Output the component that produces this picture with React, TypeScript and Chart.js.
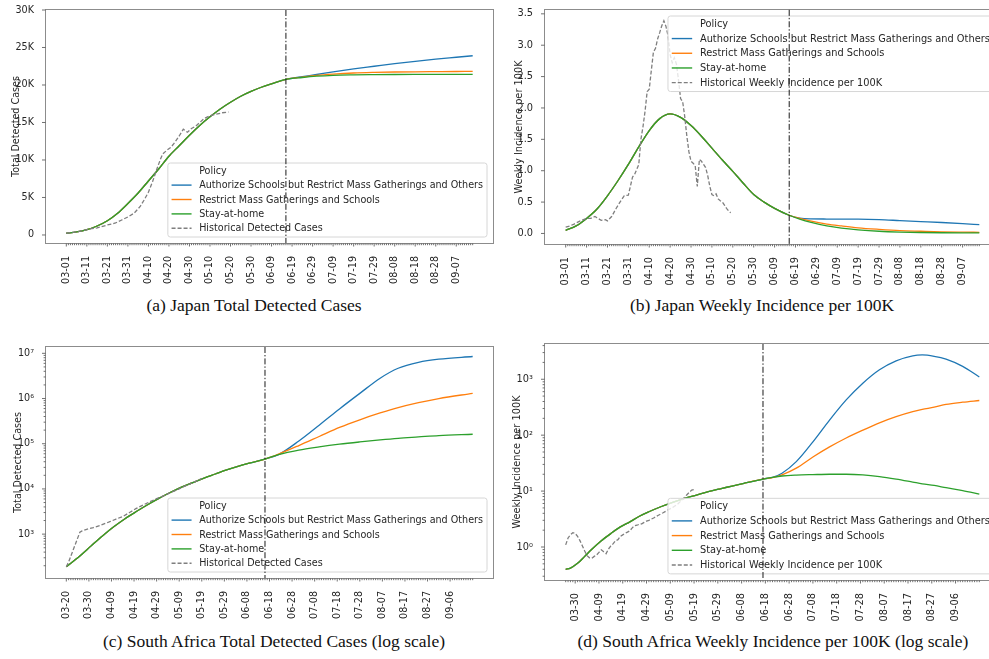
import React, { useEffect, useRef } from 'react';
import { Chart, registerables } from 'chart.js';

Chart.register(...registerables);

// ---------------- shared names ----------------
const POLICIES = [
  'Authorize Schools but Restrict Mass Gatherings and Others',
  'Restrict Mass Gatherings and Schools',
  'Stay-at-home',
];
const POLICY_COLORS = ['#1f77b4', '#ff7f0e', '#2ca02c'];
const HIST_COLOR = '#7f7f7f';
const LEGEND_TITLE = 'Policy';
const MONTH_DAYS = [31, 30, 31, 30, 31, 31, 30]; // March .. September, day 0 = 03-01
const Y_TITLE_TOTAL = 'Total Detected Cases';
const Y_TITLE_WEEKLY = 'Weekly Incidence per 100K';
const HIST_TOTAL = 'Historical Detected Cases';
const HIST_WEEKLY = 'Historical Weekly Incidence per 100K';
const CAPTIONS = [
  '(a) Japan Total Detected Cases',
  '(b) Japan Weekly Incidence per 100K',
  '(c) South Africa Total Detected Cases (log scale)',
  '(d) South Africa Weekly Incidence per 100K (log scale)',
];

// ---------------- (a) Japan total detected cases ----------------
const A_PRE_DAYS = [0, 5, 10, 15, 20, 25, 30, 35, 40, 45, 50, 55, 60, 65, 70, 75, 80, 85, 90, 95, 100, 107];
const A_PRE = [230, 400, 700, 1200, 1900, 2900, 4200, 5600, 7200, 8800, 10500, 11900, 13300, 14600, 15750, 16800, 17700, 18500, 19150, 19700, 20150, 20750];
const A_POST_DAYS = [107, 115, 122, 130, 140, 150, 160, 170, 180, 190, 198];
const A_AUTH = [20750, 21100, 21400, 21750, 22150, 22500, 22850, 23150, 23450, 23700, 23900];
const A_RESTRICT = [20750, 21050, 21280, 21450, 21600, 21680, 21730, 21760, 21780, 21800, 21810];
const A_STAY = [20750, 21000, 21170, 21290, 21350, 21380, 21400, 21405, 21410, 21410, 21410];
const A_HIST_DAYS = [0, 4, 8, 11, 15, 20, 24, 27, 30, 33, 36, 38, 40, 42, 44, 46, 47, 49, 51, 53, 55, 57, 59, 61, 63, 65, 67, 70, 73, 76, 79];
const A_HIST = [230, 380, 560, 780, 950, 1330, 1600, 2000, 2400, 2900, 3800, 4700, 5700, 7100, 8700, 10200, 10800, 11300, 11700, 12400, 13200, 14100, 13700, 14200, 14500, 15000, 15500, 15900, 16100, 16300, 16400];
const A_Y_TICKS = [0, 5000, 10000, 15000, 20000, 25000, 30000];

// ---------------- (b) Japan weekly incidence ----------------
const B_PRE_DAYS = [0, 5, 10, 15, 20, 25, 30, 35, 40, 45, 50, 55, 60, 65, 70, 75, 80, 85, 90, 95, 100, 107];
const B_PRE = [0.05, 0.12, 0.24, 0.39, 0.6, 0.84, 1.1, 1.38, 1.64, 1.83, 1.905, 1.85, 1.72, 1.55, 1.36, 1.17, 0.99, 0.8, 0.62, 0.5, 0.4, 0.29];
const B_POST_DAYS = [107, 112, 117, 125, 132, 140, 150, 160, 170, 180, 190, 198];
const B_AUTH = [0.29, 0.245, 0.232, 0.23, 0.229, 0.228, 0.22, 0.205, 0.19, 0.175, 0.157, 0.14];
const B_RESTRICT = [0.29, 0.24, 0.2, 0.15, 0.12, 0.09, 0.065, 0.045, 0.035, 0.026, 0.021, 0.018];
const B_STAY = [0.29, 0.23, 0.18, 0.12, 0.085, 0.058, 0.035, 0.022, 0.015, 0.011, 0.009, 0.008];
const B_HIST_DAYS = [0, 2, 4, 7, 10, 12, 14, 15, 17, 19, 20, 22, 24, 26, 28, 30, 32, 33, 35, 36, 37, 38, 39, 40, 41, 42, 43, 44, 45, 46, 47, 48, 49, 50, 51, 52, 53, 54, 55, 56, 57, 58, 59, 60, 61, 62, 63, 64, 65, 66, 67, 68, 69, 70, 71, 72, 73, 74, 75, 76, 77, 78, 79];
const B_HIST = [0.1, 0.12, 0.15, 0.2, 0.24, 0.24, 0.27, 0.25, 0.21, 0.22, 0.2, 0.27, 0.39, 0.5, 0.6, 0.61, 0.9, 0.94, 1.1, 1.5, 1.7, 1.95, 2.26, 2.3, 2.6, 2.89, 2.95, 3.1, 3.2, 3.31, 3.39, 3.3, 3.15, 2.85, 2.72, 2.8, 2.7, 2.45, 2.15, 2.1, 1.86, 1.55, 1.3, 1.15, 1.12, 1.08, 0.75, 1.18, 1.15, 1.1, 1.05, 0.92, 0.75, 0.62, 0.6, 0.63, 0.55, 0.52, 0.5, 0.45, 0.4, 0.36, 0.33];
const B_Y_TICKS = [0, 0.5, 1, 1.5, 2, 2.5, 3, 3.5];

// ---------------- (c) South Africa total detected cases (log) ----------------
const C_PRE_DAYS = [19, 25, 30, 35, 40, 45, 50, 55, 60, 65, 70, 75, 80, 85, 90, 95, 100, 107];
const C_PRE = [190, 330, 550, 910, 1450, 2190, 3160, 4470, 6170, 8320, 10960, 13800, 17380, 21380, 26300, 31620, 37150, 45700];
const C_POST_DAYS = [107, 113, 122, 131, 140, 149, 158, 166, 175, 184, 199];
const C_AUTH = [45700, 57500, 115000, 257000, 589000, 1300000, 2820000, 4680000, 6310000, 7410000, 8510000];
const C_RESTRICT = [45700, 58900, 91200, 144500, 229100, 338800, 478600, 631000, 812800, 1000000, 1303000];
const C_STAY = [45700, 57500, 72400, 85100, 97700, 109600, 121600, 131800, 141300, 151400, 162200];
const C_HIST_DAYS = [19, 20, 25, 26, 28, 31, 34, 38, 41, 44, 47, 50, 53, 56, 59, 62, 65, 68, 71, 74, 77, 79];
const C_HIST = [190, 240, 1100, 1180, 1280, 1400, 1560, 1860, 2150, 2450, 3000, 3700, 4400, 5200, 6100, 7000, 8200, 9500, 11200, 13000, 15200, 17000];
const C_Y_TICKS = [1e3, 1e4, 1e5, 1e6, 1e7];

// ---------------- (d) South Africa weekly incidence (log) ----------------
const D_PRE_DAYS = [25, 27, 30, 33, 36, 40, 44, 48, 52, 56, 60, 65, 70, 75, 80, 85, 90, 95, 100, 108];
const D_PRE = [0.4, 0.42, 0.51, 0.68, 0.91, 1.29, 1.74, 2.29, 2.82, 3.55, 4.27, 5.25, 6.31, 7.41, 8.51, 9.77, 11.0, 12.3, 13.8, 16.4];
const D_POST_DAYS = [108, 112, 116, 122, 129, 136, 143, 150, 157, 164, 171, 175, 180, 185, 192, 199];
const D_AUTH = [16.4, 17.6, 20.9, 33.6, 75.9, 186, 427, 851, 1480, 2140, 2630, 2720, 2570, 2290, 1700, 1100];
const D_RESTRICT = [16.4, 17.4, 19.5, 25.7, 40.7, 61.7, 89.1, 123, 166, 214, 263, 288, 316, 355, 389, 417];
const D_STAY = [16.4, 17.6, 18.6, 19.3, 19.7, 20.0, 20.0, 19.5, 18.2, 16.4, 14.5, 13.5, 12.6, 11.5, 10.2, 8.8];
const D_HIST_DAYS = [25, 26, 27, 28, 29, 30, 31, 32, 33, 34, 35, 36, 37, 38, 39, 40, 41, 42, 43, 44, 45, 46, 47, 48, 49, 50, 51, 52, 53, 54, 55, 56, 57, 58, 59, 60, 62, 64, 66, 68, 70, 72, 74, 76, 77, 78, 79];
const D_HIST = [1.09, 1.45, 1.65, 1.8, 1.75, 1.55, 1.3, 1.05, 0.85, 0.7, 0.64, 0.63, 0.68, 0.72, 0.8, 0.89, 0.82, 0.76, 0.92, 1.05, 1.15, 1.3, 1.35, 1.55, 1.65, 1.75, 1.85, 1.95, 2.2, 2.4, 2.45, 2.55, 2.6, 2.75, 2.9, 3.0, 3.3, 3.7, 4.1, 4.6, 5.1, 5.8, 7.0, 8.6, 9.5, 10.4, 10.7];
const D_Y_TICKS = [1, 10, 100, 1000];

// ---------------- helpers ----------------
function dayLabel(d: number): string {
  let rest = Math.round(d);
  let m = 0;
  while (m < MONTH_DAYS.length - 1 && rest >= MONTH_DAYS[m]) {
    rest -= MONTH_DAYS[m];
    m++;
  }
  return String(m + 3).padStart(2, '0') + '-' + String(rest + 1).padStart(2, '0');
}
const SUP: Record<string, string> = { '-': '\u207B', '0': '\u2070', '1': '\u00B9', '2': '\u00B2', '3': '\u00B3', '4': '\u2074', '5': '\u2075', '6': '\u2076', '7': '\u2077', '8': '\u2078', '9': '\u2079' };
const fmtK = (v: number) => (v === 0 ? '0' : v / 1000 + 'K');
const fmtDec = (v: number) => v.toFixed(1);
const fmtPow = (v: number) => '10' + String(Math.round(Math.log10(v))).split('').map((c) => SUP[c]).join('');
const pts = (days: number[], vals: number[]) => days.map((d, i) => ({ x: d, y: vals[i] }));

type Spec = {
  key: string;
  preDays: number[]; pre: number[];
  postDays: number[]; post: number[][];
  histDays: number[]; hist: number[];
  histLabel: string; yTitle: string; caption: string;
  log: boolean; yTicks: number[]; yFmt: (v: number) => string;
  xMin: number; xMax: number; yMin: number; yMax: number;
  span: [number, number]; firstLabel: number; lastLabel: number; split: number; corner: 'lower' | 'upper';
  left: number; top: number; width: number; height: number;
  padTop: number; padRight: number; yW: number; xH: number; titlePad: number; fs: number;
  capX: number; capY: number;
};

const SPECS: Spec[] = [
  {
    key: 'a', preDays: A_PRE_DAYS, pre: A_PRE, postDays: A_POST_DAYS, post: [A_AUTH, A_RESTRICT, A_STAY],
    histDays: A_HIST_DAYS, hist: A_HIST, histLabel: HIST_TOTAL, yTitle: Y_TITLE_TOTAL, caption: CAPTIONS[0],
    log: false, yTicks: A_Y_TICKS, yFmt: fmtK, xMin: -9.9, xMax: 207.9, yMin: -1070, yMax: 30000,
    span: [0, 198], firstLabel: 0, lastLabel: 190, split: 107, corner: 'lower',
    left: 0, top: 0, width: 495, height: 292, padTop: 10, padRight: 2, yW: 46, xH: 49, titlePad: 11, fs: 9.6,
    capX: 254, capY: 305,
  },
  {
    key: 'b', preDays: B_PRE_DAYS, pre: B_PRE, postDays: B_POST_DAYS, post: [B_AUTH, B_RESTRICT, B_STAY],
    histDays: B_HIST_DAYS, hist: B_HIST, histLabel: HIST_WEEKLY, yTitle: Y_TITLE_WEEKLY, caption: CAPTIONS[1],
    log: false, yTicks: B_Y_TICKS, yFmt: fmtDec, xMin: -9.9, xMax: 207.9, yMin: -0.168, yMax: 3.563,
    span: [0, 198], firstLabel: 0, lastLabel: 190, split: 107, corner: 'upper',
    left: 495, top: 0, width: 510, height: 292, padTop: 7, padRight: 5, yW: 50, xH: 48, titlePad: 18.5, fs: 9.8,
    capX: 762, capY: 305,
  },
  {
    key: 'c', preDays: C_PRE_DAYS, pre: C_PRE, postDays: C_POST_DAYS, post: [C_AUTH, C_RESTRICT, C_STAY],
    histDays: C_HIST_DAYS, hist: C_HIST, histLabel: HIST_TOTAL, yTitle: Y_TITLE_TOTAL, caption: CAPTIONS[2],
    log: true, yTicks: C_Y_TICKS, yFmt: fmtPow, xMin: 10, xMax: 208, yMin: 107, yMax: 1.38e7,
    span: [19, 199], firstLabel: 19, lastLabel: 189, split: 107, corner: 'lower',
    left: 0, top: 330, width: 495, height: 292, padTop: 17, padRight: 2, yW: 46, xH: 44, titlePad: 12.5, fs: 9.6,
    capX: 274, capY: 641,
  },
  {
    key: 'd', preDays: D_PRE_DAYS, pre: D_PRE, postDays: D_POST_DAYS, post: [D_AUTH, D_RESTRICT, D_STAY],
    histDays: D_HIST_DAYS, hist: D_HIST, histLabel: HIST_WEEKLY, yTitle: Y_TITLE_WEEKLY, caption: CAPTIONS[3],
    log: true, yTicks: D_Y_TICKS, yFmt: fmtPow, xMin: 16.3, xMax: 207.7, yMin: 0.257, yMax: 4270,
    span: [25, 199], firstLabel: 29, lastLabel: 189, split: 108, corner: 'lower',
    left: 495, top: 330, width: 510, height: 292, padTop: 14, padRight: 5, yW: 50, xH: 42, titlePad: 16.5, fs: 9.8,
    capX: 773, capY: 641,
  },
];

const TEXT_COLOR = '#262626';
const FRAME_COLOR = '#8c8c8c';
const TICK_COLOR = '#4d4d4d';
const FONT_FAMILY = '"DejaVu Sans", sans-serif';

function roundRectPath(ctx: CanvasRenderingContext2D, x: number, y: number, w: number, h: number, r: number) {
  ctx.beginPath();
  ctx.moveTo(x + r, y);
  ctx.lineTo(x + w - r, y);
  ctx.arcTo(x + w, y, x + w, y + r, r);
  ctx.lineTo(x + w, y + h - r);
  ctx.arcTo(x + w, y + h, x + w - r, y + h, r);
  ctx.lineTo(x + r, y + h);
  ctx.arcTo(x, y + h, x, y + h - r, r);
  ctx.lineTo(x, y + r);
  ctx.arcTo(x, y, x + r, y, r);
  ctx.closePath();
}

function decorPlugin(spec: Spec) {
  return {
    id: 'decor_' + spec.key,
    afterDatasetsDraw(chart: any) {
      const ctx: CanvasRenderingContext2D = chart.ctx;
      const a = chart.chartArea;
      const xs = chart.scales.x;
      const ys = chart.scales.y;
      ctx.save();
      // frame
      ctx.strokeStyle = FRAME_COLOR;
      ctx.lineWidth = 1;
      ctx.setLineDash([]);
      ctx.strokeRect(Math.round(a.left) - 0.5, Math.round(a.top) - 0.5, Math.round(a.right - a.left) + 1, Math.round(a.bottom - a.top) + 1);
      // x ticks (daily minor, 10-day major)
      ctx.strokeStyle = TICK_COLOR;
      ctx.lineWidth = 0.8;
      ctx.beginPath();
      for (let d = spec.span[0]; d <= spec.span[1]; d++) {
        const px = xs.getPixelForValue(d);
        const major = d >= spec.firstLabel && d <= spec.lastLabel && (d - spec.firstLabel) % 10 === 0;
        ctx.moveTo(px, a.bottom + 0.5);
        ctx.lineTo(px, a.bottom + (major ? 3.5 : 2.2));
      }
      // y ticks
      for (const v of spec.yTicks) {
        const py = ys.getPixelForValue(v);
        ctx.moveTo(a.left - 0.5, py);
        ctx.lineTo(a.left - 4, py);
      }
      if (spec.log) {
        const e0 = Math.floor(Math.log10(spec.yMin));
        const e1 = Math.ceil(Math.log10(spec.yMax));
        for (let e = e0; e <= e1; e++) {
          for (let k = 2; k <= 9; k++) {
            const v = k * Math.pow(10, e);
            if (v < spec.yMin || v > spec.yMax) continue;
            const py = ys.getPixelForValue(v);
            ctx.moveTo(a.left - 0.5, py);
            ctx.lineTo(a.left - 2.4, py);
          }
        }
      }
      ctx.stroke();

      // legend
      const s = spec.fs / 9.6;
      ctx.font = `${spec.fs}px ${FONT_FAMILY}`;
      const labels = [LEGEND_TITLE, ...POLICIES, spec.histLabel];
      const textW = Math.max(...labels.map((l) => ctx.measureText(l).width));
      const padL = 3.7 * s, handle = 20 * s, gap = 7.6 * s, padR = 4 * s, rowH = 14.4 * s, padT = 7.7 * s, inset = 6 * s;
      const w = padL + handle + gap + textW + padR;
      const h = 74 * s;
      const x0 = a.right - inset - w;
      const y0 = spec.corner === 'lower' ? a.bottom - inset - h : a.top + inset;
      roundRectPath(ctx, x0, y0, w, h, 2.5);
      ctx.fillStyle = 'rgba(255,255,255,0.8)';
      ctx.fill();
      ctx.strokeStyle = '#d6d6d6';
      ctx.lineWidth = 1;
      ctx.stroke();
      ctx.textBaseline = 'middle';
      ctx.textAlign = 'left';
      const tx = x0 + padL + handle + gap;
      labels.forEach((label, i) => {
        const cy = y0 + padT + i * rowH;
        if (i >= 1) {
          ctx.beginPath();
          ctx.lineWidth = 1.4;
          if (i <= 3) {
            ctx.strokeStyle = POLICY_COLORS[i - 1];
            ctx.setLineDash([]);
          } else {
            ctx.strokeStyle = HIST_COLOR;
            ctx.setLineDash([4, 2]);
          }
          ctx.moveTo(x0 + padL, cy);
          ctx.lineTo(x0 + padL + handle, cy);
          ctx.stroke();
          ctx.setLineDash([]);
        }
        ctx.fillStyle = TEXT_COLOR;
        ctx.fillText(label, tx, cy + 0.5);
      });

      // policy-change vertical line
      const vx = xs.getPixelForValue(spec.split);
      ctx.beginPath();
      ctx.strokeStyle = '#1a1a1a';
      ctx.lineWidth = 1;
      ctx.setLineDash([6, 2, 1.4, 2]);
      ctx.moveTo(vx, a.top);
      ctx.lineTo(vx, a.bottom);
      ctx.stroke();
      ctx.restore();
    },
  };
}

function buildConfig(spec: Spec): any {
  const font = { family: FONT_FAMILY, size: spec.fs };
  const model = spec.post.map((series, i) => ({
    label: POLICIES[i],
    data: [...pts(spec.preDays, spec.pre), ...pts(spec.postDays.slice(1), series.slice(1))],
    borderColor: POLICY_COLORS[i],
    backgroundColor: POLICY_COLORS[i],
    borderWidth: 1.3,
    pointRadius: 0,
    fill: false,
    cubicInterpolationMode: 'monotone',
    order: 3 - i,
  }));
  const hist = {
    label: spec.histLabel,
    data: pts(spec.histDays, spec.hist),
    borderColor: HIST_COLOR,
    backgroundColor: HIST_COLOR,
    borderWidth: 1.3,
    borderDash: [4, 2],
    pointRadius: 0,
    fill: false,
    tension: 0,
    order: 0,
  };
  const labelDays: number[] = [];
  for (let d = spec.firstLabel; d <= spec.lastLabel; d += 10) labelDays.push(d);
  return {
    type: 'line',
    data: { datasets: [...model, hist] },
    plugins: [decorPlugin(spec)],
    options: {
      responsive: false,
      animation: false,
      events: [],
      layout: { padding: { left: 0, top: spec.padTop, right: spec.padRight, bottom: 0 } },
      plugins: { legend: { display: false }, tooltip: { enabled: false }, title: { display: false } },
      scales: {
        x: {
          type: 'linear',
          min: spec.xMin,
          max: spec.xMax,
          bounds: 'data',
          afterBuildTicks: (ax: any) => { ax.ticks = labelDays.map((v) => ({ value: v })); },
          afterFit: (ax: any) => { ax.height = spec.xH; },
          grid: { display: false },
          border: { display: false },
          ticks: {
            autoSkip: false,
            minRotation: 90,
            maxRotation: 90,
            padding: 5,
            font,
            color: TEXT_COLOR,
            callback: (v: number) => dayLabel(v),
          },
        },
        y: {
          type: spec.log ? 'logarithmic' : 'linear',
          min: spec.yMin,
          max: spec.yMax,
          bounds: 'data',
          afterBuildTicks: (ax: any) => { ax.ticks = spec.yTicks.map((v) => ({ value: v, major: true })); },
          afterFit: (ax: any) => { ax.width = spec.yW; },
          grid: { display: false },
          border: { display: false },
          ticks: { autoSkip: false, padding: 4, font, color: TEXT_COLOR, callback: (v: number) => spec.yFmt(v) },
          title: {
            display: true,
            text: spec.yTitle,
            font,
            color: TEXT_COLOR,
            padding: { top: spec.titlePad, bottom: 0 },
          },
        },
      },
    },
  };
}

function Panel({ spec }: { spec: Spec }) {
  const ref = useRef<HTMLCanvasElement>(null);
  useEffect(() => {
    const chart = new Chart(ref.current as HTMLCanvasElement, buildConfig(spec));
    return () => chart.destroy();
  }, [spec]);
  return (
    <canvas
      ref={ref}
      width={spec.width}
      height={spec.height}
      style={{ position: 'absolute', left: spec.left, top: spec.top, width: spec.width, height: spec.height }}
    />
  );
}

export default function App() {
  return (
    <div style={{ position: 'absolute', left: 0, top: 0, width: 989, height: 659, overflow: 'hidden', background: '#fff' }}>
      {SPECS.map((s) => (
        <Panel key={s.key} spec={s} />
      ))}
      {SPECS.map((s) => (
        <div
          key={'cap' + s.key}
          style={{
            position: 'absolute',
            left: s.capX,
            top: s.capY - 11,
            transform: 'translateX(-50%)',
            whiteSpace: 'nowrap',
            fontFamily: '"Liberation Serif", "DejaVu Serif", serif',
            fontSize: 17.5,
            lineHeight: '22px',
            color: '#111',
          }}
        >
          {s.caption}
        </div>
      ))}
    </div>
  );
}
